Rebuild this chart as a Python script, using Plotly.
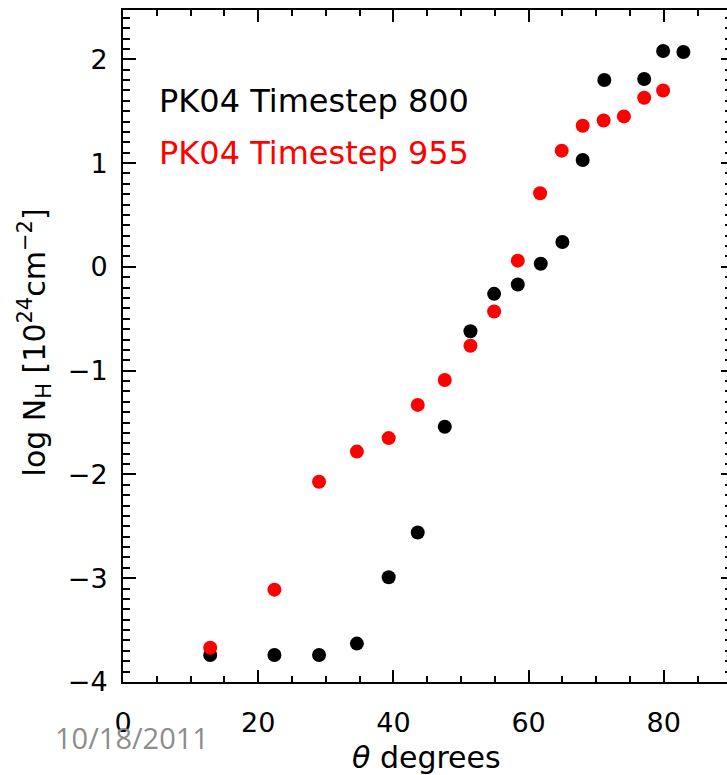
import plotly.graph_objects as go

# Data
theta_800 = [12.9, 22.4, 29.0, 34.6, 39.3, 43.6, 47.6, 51.4, 54.9, 58.4, 61.8, 65.0, 68.0, 71.2, 77.1, 79.9, 82.9]
lognh_800 = [-3.74, -3.74, -3.74, -3.63, -2.99, -2.56, -1.54, -0.62, -0.26, -0.17, 0.03, 0.24, 1.03, 1.80, 1.81, 2.08, 2.07]

theta_955 = [12.9, 22.4, 29.0, 34.6, 39.3, 43.6, 47.6, 51.4, 54.9, 58.4, 61.7, 64.9, 68.0, 71.1, 74.1, 77.1, 79.9]
lognh_955 = [-3.67, -3.11, -2.07, -1.78, -1.65, -1.33, -1.09, -0.76, -0.43, 0.06, 0.71, 1.12, 1.36, 1.41, 1.45, 1.63, 1.70]

legend_labels = ["PK04 Timestep 800", "PK04 Timestep 955"]
series_colors = ["#000000", "#ff0000"]

x_range = [0, 89.35]
y_range = [-4.0, 2.475]
x_ticks = [0, 20, 40, 60, 80]
y_ticks = [-4, -3, -2, -1, 0, 1, 2]

tick_font = dict(family="DejaVu Sans", size=27, color="#000000")

fig = go.Figure()
fig.add_trace(go.Scatter(
    x=theta_800, y=lognh_800, mode="markers", name=legend_labels[0],
    marker=dict(size=14, color=series_colors[0], line=dict(width=0)),
    xaxis="x", yaxis="y",
))
fig.add_trace(go.Scatter(
    x=theta_955, y=lognh_955, mode="markers", name=legend_labels[1],
    marker=dict(size=14, color=series_colors[1], line=dict(width=0)),
    xaxis="x", yaxis="y2",
))

fig.update_layout(
    width=727, height=775,
    margin=dict(l=123, r=0, t=10, b=93),
    paper_bgcolor="white", plot_bgcolor="white",
    showlegend=False,
    xaxis=dict(
        range=x_range, tickvals=x_ticks, ticks="inside", ticklen=12, tickwidth=2,
        tickcolor="black", showline=True, linecolor="black", linewidth=2,
        mirror="ticks", showgrid=False, zeroline=False,
        tickfont=tick_font, ticklabelstandoff=16,
        minor=dict(dtick=5, ticks="inside", ticklen=6, tickwidth=2, tickcolor="black", showgrid=False),
    ),
    yaxis=dict(
        range=y_range, tickvals=y_ticks, ticks="inside", ticklen=13, tickwidth=2,
        tickcolor="black", showline=True, linecolor="black", linewidth=2,
        mirror=False, showgrid=False, zeroline=False,
        tickfont=tick_font, ticklabelstandoff=8,
        minor=dict(dtick=0.1, ticks="inside", ticklen=7, tickwidth=2, tickcolor="black", showgrid=False),
    ),
    yaxis2=dict(
        range=y_range, matches="y", overlaying="y", side="right", anchor="x",
        tickvals=y_ticks, ticks="inside", ticklen=6, tickwidth=2, tickcolor="black",
        showline=False, showgrid=False, zeroline=False, showticklabels=False,
        minor=dict(dtick=0.1, ticks="inside", ticklen=2, tickwidth=2, tickcolor="black", showgrid=False),
    ),
    annotations=[
        dict(text=legend_labels[0], xref="paper", yref="paper", x=0.056, y=0.864,
             xanchor="left", yanchor="middle", showarrow=False,
             font=dict(family="DejaVu Sans", size=32, color=series_colors[0])),
        dict(text=legend_labels[1], xref="paper", yref="paper", x=0.056, y=0.787,
             xanchor="left", yanchor="middle", showarrow=False,
             font=dict(family="DejaVu Sans", size=32, color=series_colors[1])),
        dict(text="<i>θ</i> degrees", xref="paper", yref="paper", x=0.503, y=-0.112,
             xanchor="center", yanchor="middle", showarrow=False,
             font=dict(family="DejaVu Sans", size=30, color="black")),
        dict(text="log N<sub>H</sub> [10<sup>24</sup>cm<sup>−2</sup>]", xref="paper", yref="paper",
             x=-0.146, y=0.505, xanchor="center", yanchor="middle", textangle=-90, showarrow=False,
             font=dict(family="DejaVu Sans", size=30, color="black")),
        dict(text="10/18/2011", xref="paper", yref="paper", x=-0.116, y=-0.083,
             xanchor="left", yanchor="middle", showarrow=False,
             font=dict(family="Open Sans", size=29, color="#8c8c8c")),
    ],
)

fig.write_html("out.html")
